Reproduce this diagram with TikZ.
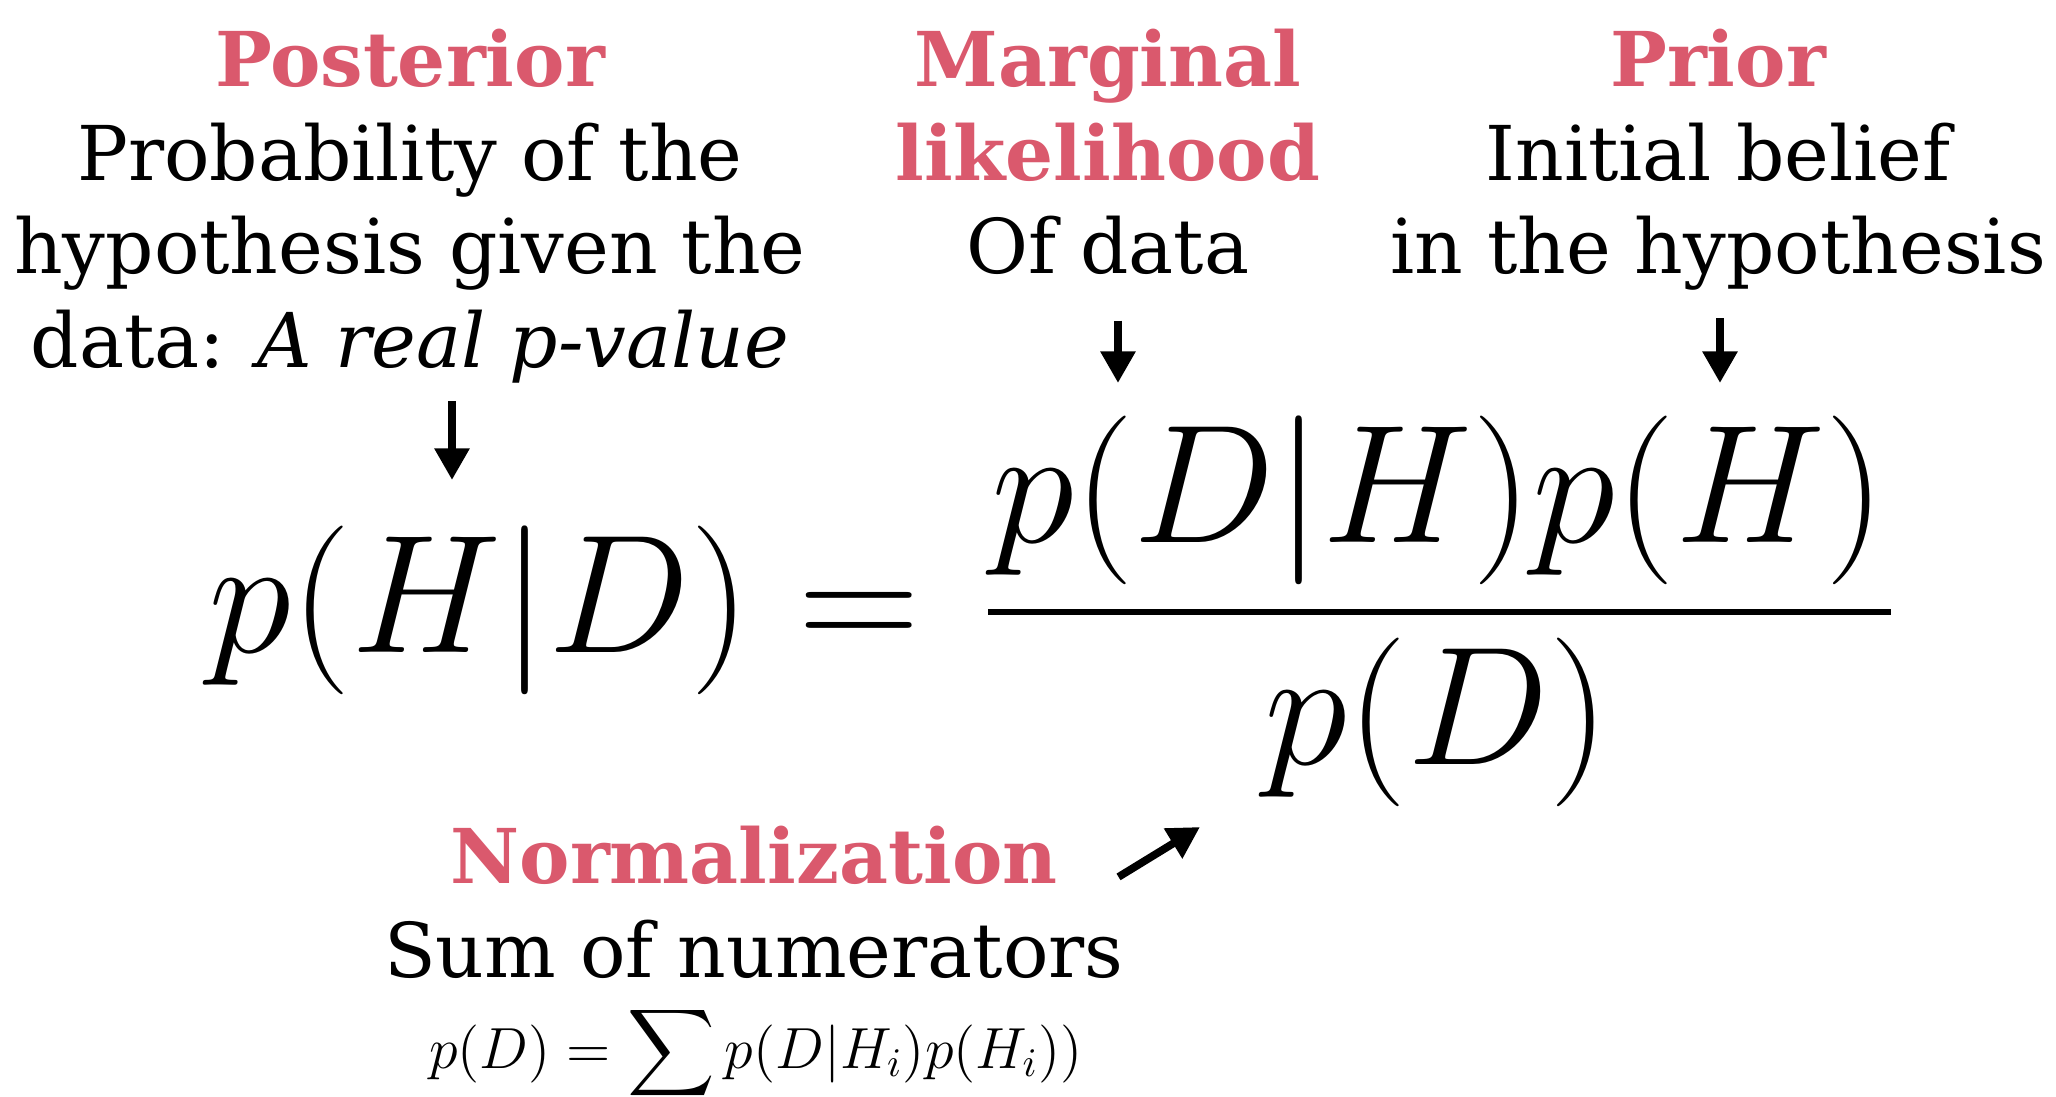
\RequirePackage{fix-cm}
\documentclass[tikz,border=0pt]{standalone}
\usepackage{amsmath}
\usepackage{fontspec}
\setmainfont{DejaVu Serif}
\usetikzlibrary{arrows.meta}

\definecolor{termred}{RGB}{218,89,109}
\newcommand{\term}[1]{{\bfseries\color{termred}#1}}

\tikzset{
  note/.style={align=center, inner sep=0pt, anchor=north, font=\fontsize{21.5}{26.7}\selectfont},
  bigmath/.style={inner sep=0pt, anchor=base, font=\fontsize{48}{50}\selectfont},
  pointer/.style={line width=2.2pt, -{Triangle[length=9pt,width=9.5pt]}},
}

\begin{document}
\begin{tikzpicture}[x=0.01cm, y=-0.01cm]

    \useasboundingbox (0,0) rectangle (2056,1096);

    % Labels
    \node[note] (post) at (410,28) {\term{Posterior}\\Probability of the\\hypothesis given the\\data: \textit{A real p-value}};
    \node[note] (marg) at (1108,28) {\term{Marginal}\\\term{likelihood}\\Of data};
    \node[note] (prior) at (1718,28) {\term{Prior}\\Initial belief\\in the hypothesis};
    \node[note] (norm) at (754,825) {\term{Normalization}\\Sum of numerators};
    \node[inner sep=0pt, anchor=base, font=\fontsize{16.5}{20}\selectfont] (normeq) at (756,1068)
        {$p(D) = \displaystyle\sum p(D|H_i)p(H_i))$};

    % Bayes rule
    \node[bigmath, anchor=base west] (lhs) at (208,652) {$p(H|D)$};
    \node[bigmath] (eq) at (859,652) {$=$};
    \node[bigmath] (num) at (1438,542) {$p(D|H)p(H)$};
    \node[bigmath] (den) at (1437,764) {$p(D)$};
    \draw[line width=1.9pt] (988,612) -- (1891,612);

    % Arrow tips
    \coordinate (postTip) at (452,480);
    \coordinate (margTip) at (1118,383);
    \coordinate (priorTip) at (1720,383);
    \coordinate (denTip) at (1200,827);

    % Arrows
    \draw[pointer] (post.south -| postTip) ++(0,17) -- (postTip);
    \draw[pointer] (marg.south -| margTip) ++(0,45) -- (margTip);
    \draw[pointer] (prior.south -| priorTip) ++(0,27) -- (priorTip);
    \draw[pointer] (norm.east) ++(-6,-25) -- (denTip);

\end{tikzpicture}
\end{document}
